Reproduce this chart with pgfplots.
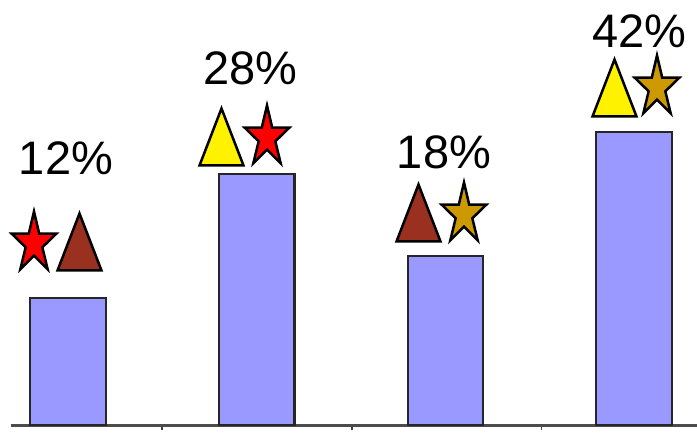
\documentclass[border=0pt]{standalone}
\usepackage{fontspec}
\setmainfont{Liberation Sans}
\usepackage{pgfplots}
\pgfplotsset{compat=1.18}

\definecolor{barfill}{HTML}{9999FF}
\definecolor{brick}{HTML}{993020}
\definecolor{gold}{HTML}{CC9900}

% Tall five-pointed star and tall triangle, centred on the plotted point
\pgfdeclareplotmark{tallstar}{%
  \pgfpathmoveto{\pgfpoint{0pt}{32pt}}%
  \pgfpathlineto{\pgfpoint{5.2pt}{9.9pt}}%
  \pgfpathlineto{\pgfpoint{22.4pt}{9.9pt}}%
  \pgfpathlineto{\pgfpoint{8.35pt}{-3.8pt}}%
  \pgfpathlineto{\pgfpoint{13.7pt}{-25.9pt}}%
  \pgfpathlineto{\pgfpoint{0pt}{-12.2pt}}%
  \pgfpathlineto{\pgfpoint{-13.7pt}{-25.9pt}}%
  \pgfpathlineto{\pgfpoint{-8.35pt}{-3.8pt}}%
  \pgfpathlineto{\pgfpoint{-22.4pt}{9.9pt}}%
  \pgfpathlineto{\pgfpoint{-5.2pt}{9.9pt}}%
  \pgfpathclose
  \pgfusepathqfillstroke}
\pgfdeclareplotmark{talltriangle}{%
  \pgfpathmoveto{\pgfpoint{0pt}{28.5pt}}%
  \pgfpathlineto{\pgfpoint{22pt}{-28.5pt}}%
  \pgfpathlineto{\pgfpoint{-22pt}{-28.5pt}}%
  \pgfpathclose
  \pgfusepathqfillstroke}

\pgfplotstableread{
pos value
0   12
1   28
2   18
3   42
}\sharetable

\begin{document}
\begin{tikzpicture}
\path[use as bounding box] (0,0) rectangle (697pt,437pt);

% Bars: the value scale has no labels and is deliberately uneven,
% since the bar heights do not grow in proportion to the percentages.
\begin{axis}[
  at={(11pt,12pt)}, anchor=south west,
  scale only axis, width=686pt, height=425pt,
  xmin=-0.3021, xmax=3.3338, ymin=0, ymax=86,
  y coord trafo/.code={\pgfmathparse{#1<=12 ? #1*127/12 : (#1<=18 ? 127+(#1-12)*7 : (#1<=28 ? 169+(#1-18)*8.2 : 251+(#1-28)*3))}\pgfmathresult},
  axis x line=bottom, axis y line=none,
  x axis line style={-, draw=black!70, line width=3pt},
  xtick={0.498,1.505,2.51}, xticklabels={}, ytick=\empty,
  tick style={draw=black!75, line width=1.2pt},
  tick align=outside, major tick length=5pt,
]
\addplot[ybar, bar width=75.5pt, fill=barfill, draw=black!85, line width=2.2pt]
  table[x=pos, y=value] {\sharetable};
\end{axis}

% Symbols and percentage labels, positioned on a plain linear overlay
\begin{axis}[
  at={(0pt,0pt)}, anchor=south west,
  scale only axis, width=697pt, height=437pt,
  xmin=0, xmax=697, ymin=0, ymax=437,
  hide axis, clip=false,
]
\addplot[only marks, mark=tallstar, mark options={draw=black, fill=red, line width=2.5pt}]
  coordinates {(34,193.5) (267,299.5)};
\addplot[only marks, mark=talltriangle, mark options={draw=black, fill=brick, line width=2.5pt}]
  coordinates {(79.5,195) (418.5,224)};
\addplot[only marks, mark=talltriangle, mark options={draw=black, fill=yellow, line width=2.5pt}]
  coordinates {(221.5,300) (614.5,349)};
\addplot[only marks, mark=tallstar, mark options={draw=black, fill=gold, line width=2.5pt}]
  coordinates {(464,222.5) (657,349.5)};

\node[anchor=base, font=\fontsize{47}{50}\selectfont, inner sep=0pt] at (axis cs:66,262) {12\%};
\node[anchor=base, font=\fontsize{47}{50}\selectfont, inner sep=0pt] at (axis cs:250.5,352) {28\%};
\node[anchor=base, font=\fontsize{47}{50}\selectfont, inner sep=0pt] at (axis cs:444,268) {18\%};
\node[anchor=base, font=\fontsize{47}{50}\selectfont, inner sep=0pt] at (axis cs:639.5,389) {42\%};
\end{axis}
\end{tikzpicture}
\end{document}
